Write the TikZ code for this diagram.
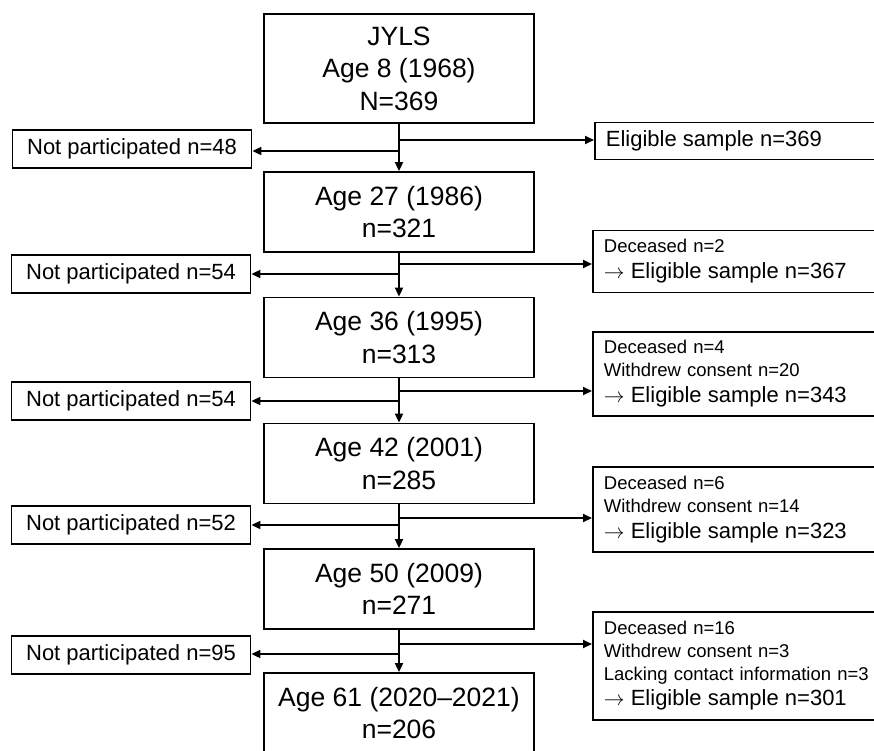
\documentclass[tikz,border=0pt]{standalone}
\usepackage{fontspec}
\setmainfont{Liberation Sans}
\usetikzlibrary{arrows.meta,positioning}
\newcommand{\eligline}[1]{{\fontsize{22}{26}\selectfont #1}}
\newcommand{\toelig}{$\rightarrow$\ }
\begin{document}
\begin{tikzpicture}[x=1pt,y=-1pt]
\tikzset{
  wavenode/.style={draw,line width=1.8pt,minimum width=270pt,minimum height=80pt,align=center,inner sep=4pt,font=\fontsize{26.5}{32.5}\selectfont},
  lossnode/.style={draw,line width=1.8pt,minimum width=239pt,minimum height=38pt,inner sep=4pt,font=\fontsize{22}{26}\selectfont},
  eligiblenode/.style={draw,line width=1.8pt,anchor=west,text width=280pt,align=left,inner xsep=11pt,inner ysep=4pt,font=\fontsize{18.5}{23}\selectfont},
  flow/.style={-{Triangle[length=9pt,width=8pt]},line width=1.8pt}
}
\useasboundingbox (0,0) rectangle (874,750);
\node[wavenode,minimum height=109pt] (n_W0) at (399,68.5) {JYLS\\Age 8 (1968)\\N=369};
\node[wavenode] (n_W1) at (399,212) {Age 27 (1986)\\n=321};
\node[wavenode] (n_W2) at (399,337.5) {Age 36 (1995)\\n=313};
\node[wavenode] (n_W3) at (399,463.5) {Age 42 (2001)\\n=285};
\node[wavenode] (n_W4) at (399,589) {Age 50 (2009)\\n=271};
\node[wavenode] (n_W5) at (399,713) {Age 61 (2020--2021)\\n=206};
\node[lossnode] (n_N1) at (132,149) {Not participated n=48};
\node[lossnode] (n_N2) at (131,274) {Not participated n=54};
\node[lossnode] (n_N3) at (131,401) {Not participated n=54};
\node[lossnode] (n_N4) at (131,525) {Not participated n=52};
\node[lossnode] (n_N5) at (131,655) {Not participated n=95};
\node[eligiblenode,minimum height=37pt] (n_E1) at (594,141) {\eligline{Eligible sample n=369}};
\node[eligiblenode,minimum height=62pt] (n_E2) at (592,261.5) {Deceased n=2\\[3pt]\eligline{\toelig Eligible sample n=367}};
\node[eligiblenode,minimum height=84pt] (n_E3) at (592,374) {Deceased n=4\\Withdrew consent n=20\\[3pt]\eligline{\toelig Eligible sample n=343}};
\node[eligiblenode,minimum height=85pt] (n_E4) at (592,509.5) {Deceased n=6\\Withdrew consent n=14\\[3pt]\eligline{\toelig Eligible sample n=323}};
\node[eligiblenode,minimum height=108pt] (n_E5) at (592,666) {Deceased n=16\\Withdrew consent n=3\\Lacking contact information n=3\\[2pt]\eligline{\toelig Eligible sample n=301}};
\coordinate (c_R1) at (399,140);
\coordinate (c_L1) at (399,151);
\coordinate (c_R2) at (399,264);
\coordinate (c_L2) at (399,274);
\coordinate (c_R3) at (399,391);
\coordinate (c_L3) at (399,401);
\coordinate (c_R4) at (399,518);
\coordinate (c_L4) at (399,525);
\coordinate (c_R5) at (399,644);
\coordinate (c_L5) at (399,654);
\draw[flow] (n_W0.south) -- (n_W1.north);
\draw[flow] (n_W1.south) -- (n_W2.north);
\draw[flow] (n_W2.south) -- (n_W3.north);
\draw[flow] (n_W3.south) -- (n_W4.north);
\draw[flow] (n_W4.south) -- (n_W5.north);
\draw[flow] (c_R1) -- (c_R1 -| n_E1.west);
\draw[flow] (c_R2) -- (c_R2 -| n_E2.west);
\draw[flow] (c_R3) -- (c_R3 -| n_E3.west);
\draw[flow] (c_R4) -- (c_R4 -| n_E4.west);
\draw[flow] (c_R5) -- (c_R5 -| n_E5.west);
\draw[flow] (c_L1) -- (c_L1 -| n_N1.east);
\draw[flow] (c_L2) -- (c_L2 -| n_N2.east);
\draw[flow] (c_L3) -- (c_L3 -| n_N3.east);
\draw[flow] (c_L4) -- (c_L4 -| n_N4.east);
\draw[flow] (c_L5) -- (c_L5 -| n_N5.east);
\end{tikzpicture}
\end{document}
